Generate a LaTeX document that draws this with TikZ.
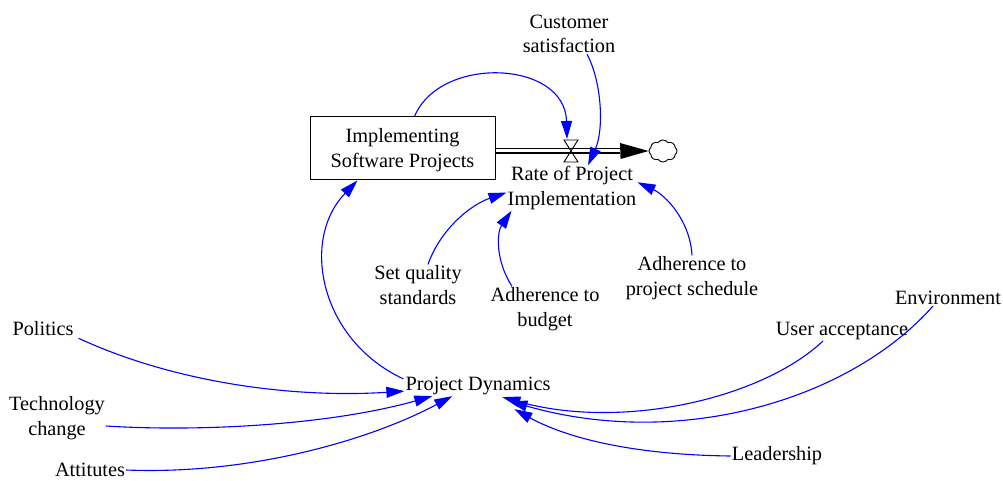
\documentclass[tikz,border=0pt]{standalone}
\usepackage{fontspec}
\setmainfont{Liberation Serif}
\usetikzlibrary{arrows.meta,shapes.symbols}
\definecolor{linkblue}{RGB}{0,0,255}
\begin{document}
\begin{tikzpicture}[x=1pt,y=-1pt,
  lbl/.style={align=center,inner sep=1pt,font=\fontsize{20.3}{24.5}\selectfont},
  stockbox/.style={draw=black,line width=1pt,minimum width=185pt,minimum height=63pt,inner sep=0pt},
  link/.style={draw=linkblue,line width=1.1pt,-{Triangle[length=18pt,width=11pt]}},
  pipe/.style={draw=black,line width=1.1pt,double=white,double distance=3pt},
  valveshape/.style={draw=black,line width=0.9pt},
  sinkcloud/.style={cloud,draw=black,line width=0.9pt,cloud puffs=8,cloud puff arc=110,aspect=1.3,minimum width=28pt,minimum height=22pt,inner sep=0pt}]
\useasboundingbox (0,0) rectangle (1003,481);
\fill[white] (0,0) rectangle (1003,481);

% nodes
\node[stockbox] (stock) at (402.5,148.5) {};
\node[lbl] (stocklabel) at (402.5,150) {Implementing\\Software Projects};
\node[lbl] (cs) at (569,34) {Customer\\satisfaction};
\node[lbl] (rate) at (572,188) {Rate of Project\\Implementation};
\node[lbl] (setq) at (418,285) {Set quality\\standards};
\node[lbl] (budget) at (545,309) {Adherence to\\budget};
\node[lbl] (sched) at (692,278) {Adherence to\\project schedule};
\node[lbl] (pd) at (478,386) {Project Dynamics};
\node[lbl] (pol) at (43,329) {Politics};
\node[lbl] (tech) at (57,418) {Technology\\change};
\node[lbl] (att) at (90,470) {Attitutes};
\node[lbl] (env) at (948,298) {Environment};
\node[lbl] (ua) at (842,331) {User acceptance};
\node[lbl] (lead) at (777,456) {Leadership};
\node[sinkcloud] (sink) at (663,151) {};
\coordinate (valve) at (571,151);
\coordinate (pipeend) at (620,151);

% flow pipe
\draw[pipe] (stock.east |- valve) -- (pipeend);
\fill[black] (pipeend) ++(0,-8) -- (sink.west) -- ++(-28,8) -- cycle;
\draw[valveshape] (valve) -- ++(-7,-11) -- ++(14,0) -- cycle;
\draw[valveshape] (valve) -- ++(-7,11) -- ++(14,0) -- cycle;

% links
\draw[link] ([xshift=12pt]stock.north) .. controls (440,55) and (565,60) .. ([xshift=-4pt,yshift=1pt]valve |- 0,140);
\draw[link] ([xshift=18pt]cs.south) .. controls (602,82) and (604,130) .. ([xshift=16pt]rate.north);
\draw[link] ([xshift=10pt]setq.north) .. controls (440,230) and (470,205) .. (rate.184);
\draw[link] ([xshift=-33pt]budget.north) .. controls (495,260) and (497,232) .. ([xshift=5pt]rate.south west);
\draw[link] (sched.north) .. controls (690,220) and (665,195) .. (rate.5);
\draw[link] ([xshift=-1pt,yshift=-3pt]pd.north west) .. controls (320,340) and (300,240) .. ([xshift=-45pt]stock.south);
\draw[link] ([xshift=4pt,yshift=-1pt]pol.south east) .. controls (180,385) and (300,398) .. ([yshift=5pt]pd.south west);
\draw[link] ([yshift=-8pt]tech.east) .. controls (200,432) and (330,425) .. ([xshift=28pt]pd.south west);
\draw[link] (att.east) .. controls (250,475) and (370,440) .. ([xshift=48pt]pd.south west);
\draw[link] ([xshift=-19pt]ua.south) .. controls (760,400) and (620,430) .. ([xshift=98pt,yshift=-1pt]pd.south west);
\draw[link] ([xshift=-15pt]env.south) .. controls (850,400) and (680,450) .. ([xshift=105pt,yshift=-5pt]pd.south west);
\draw[link] (lead.west) .. controls (640,455) and (570,440) .. ([xshift=110pt,yshift=-13pt]pd.south west);
\end{tikzpicture}
\end{document}
